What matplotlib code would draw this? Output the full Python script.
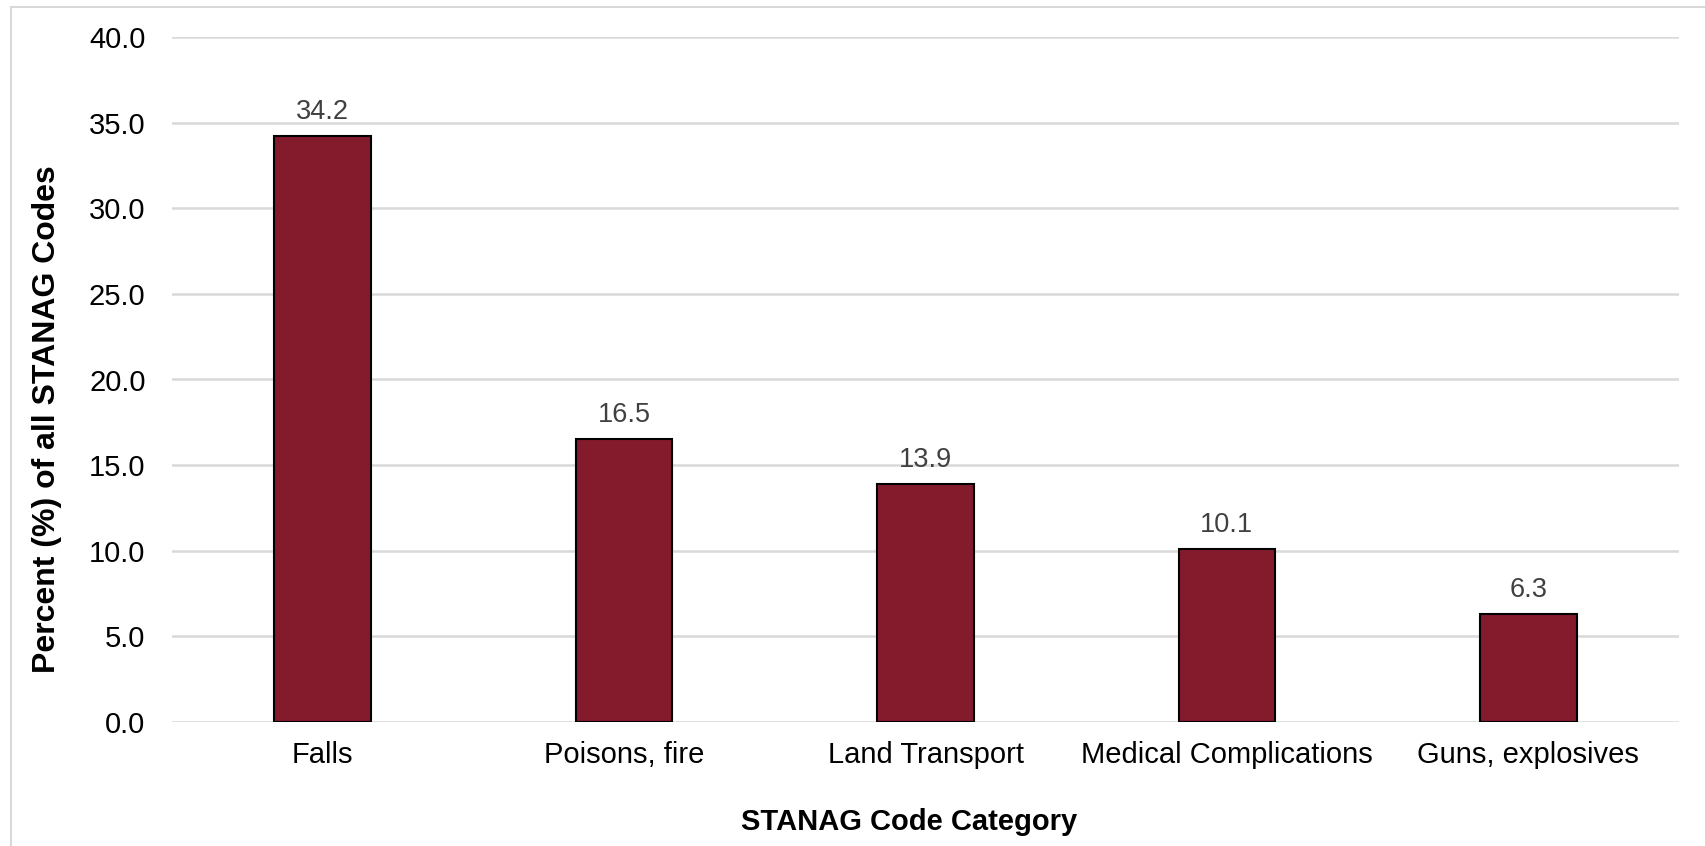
import matplotlib.pyplot as plt
from matplotlib.lines import Line2D

categories = ["Falls", "Poisons, fire", "Land Transport", "Medical Complications", "Guns, explosives"]
percents = [34.2, 16.5, 13.9, 10.1, 6.3]
yticks = [0, 5, 10, 15, 20, 25, 30, 35, 40]

plt.rcParams["font.family"] = ["Liberation Sans", "DejaVu Sans"]

fig = plt.figure(figsize=(17.05, 8.46), dpi=100)
ax = fig.add_axes([172 / 1705, 1 - 722 / 846, (1679 - 172) / 1705, (722 - 37) / 846])

x = range(len(categories))
ax.bar(x, percents, width=0.32, color="#841B2D", edgecolor="black", linewidth=1.5, zorder=3)

for xi, v in zip(x, percents):
    ax.annotate(f"{v:.1f}", (xi, v), xytext=(0, 8), textcoords="offset points",
                ha="center", va="bottom", fontsize=19.5, color="#404040")

ax.set_xlim(-0.5, len(categories) - 0.5)
ax.set_ylim(0, 40)
ax.set_yticks(yticks)
ax.set_yticklabels([f"{t:.1f}" for t in yticks], fontsize=21)
ax.set_xticks(list(x))
ax.set_xticklabels(categories, fontsize=21)
ax.tick_params(axis="both", length=0, colors="black")
ax.tick_params(axis="y", pad=19)
ax.tick_params(axis="x", pad=14)

ax.grid(axis="y", color="#D9D9D9", linewidth=1.8, zorder=0)
for s in ax.spines.values():
    s.set_visible(False)

fig.text(909 / 1705, 1 - 822 / 846, "STANAG Code Category", ha="center", va="center",
         fontsize=21, fontweight="bold")
fig.text(47 / 1705, 1 - 419 / 846, "Percent (%) of all STANAG Codes", ha="center", va="center",
         rotation=90, fontsize=23, fontweight="bold")

# light frame around the chart area (top and left edges visible)
fig.add_artist(Line2D([11 / 1705, 1], [1 - 7 / 846, 1 - 7 / 846], color="#D9D9D9", linewidth=1.5))
fig.add_artist(Line2D([11 / 1705, 11 / 1705], [0, 1 - 7 / 846], color="#D9D9D9", linewidth=1.5))

plt.savefig("out.png", dpi=100)
plt.close()
